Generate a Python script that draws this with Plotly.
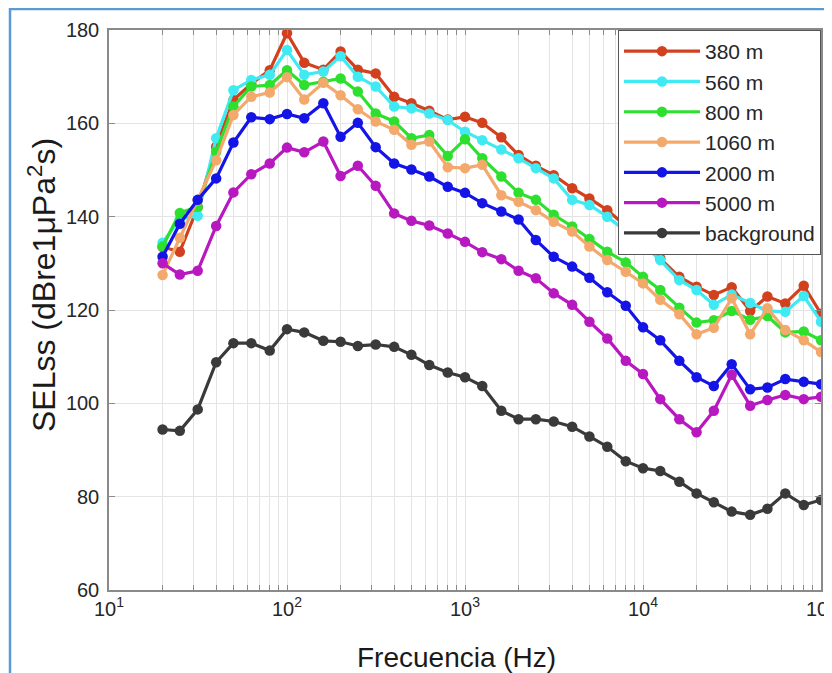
import plotly.graph_objects as go

freqs = [20, 25, 31.5, 40, 50, 63, 80, 100, 125, 160, 200, 250, 315, 400, 500, 630, 800,
         1000, 1250, 1600, 2000, 2500, 3150, 4000, 5000, 6300, 8000, 10000, 12500, 16000,
         20000, 25000, 31500, 40000, 50000, 63000, 80000, 100000]

sel_380 = [133.5, 132.5, 142.0, 155.0, 165.0, 168.5, 171.4, 179.3, 173.0, 171.5, 175.4, 171.5,
           170.7, 165.7, 164.3, 162.7, 160.8, 161.4, 160.1, 157.0, 153.2, 150.9, 148.9, 146.1,
           143.9, 141.4, 138.0, 134.5, 131.1, 127.1, 125.0, 123.2, 124.9, 119.8, 122.9, 121.4,
           125.2, 119.2]
sel_560 = [134.4, 139.5, 140.2, 156.8, 167.1, 169.3, 170.4, 175.7, 170.4, 171.1, 174.4, 170.0,
           167.9, 163.6, 163.2, 162.1, 160.7, 158.2, 156.4, 154.4, 152.5, 150.4, 148.2, 143.6,
           142.5, 140.0, 137.0, 134.0, 130.7, 126.4, 124.3, 121.1, 123.3, 121.5, 119.8, 119.6,
           123.0, 117.5]
sel_800 = [133.6, 140.8, 142.1, 153.9, 163.6, 167.9, 168.2, 171.4, 168.2, 168.9, 169.6, 166.8,
           162.1, 160.4, 156.8, 157.5, 153.0, 156.6, 152.5, 148.6, 145.1, 143.6, 140.4, 137.9,
           135.2, 132.5, 130.2, 127.1, 124.3, 120.5, 117.3, 117.8, 119.8, 117.9, 118.7, 115.2,
           115.4, 113.5]
sel_1060 = [127.5, 135.5, 143.5, 152.1, 161.8, 165.7, 166.6, 169.9, 165.1, 168.7, 166.0, 163.0,
            160.4, 158.6, 155.4, 156.1, 150.6, 150.4, 151.1, 144.6, 143.2, 141.4, 138.9, 136.8,
            133.6, 130.7, 128.2, 125.7, 122.2, 119.1, 114.8, 116.2, 122.5, 114.8, 120.4, 115.7,
            113.5, 111.0]
sel_2000 = [131.4, 138.5, 143.6, 148.2, 155.9, 161.3, 160.9, 162.0, 161.1, 164.3, 157.1, 160.1,
            154.9, 151.4, 150.1, 148.6, 146.4, 145.1, 142.9, 141.1, 139.4, 135.0, 131.4, 129.3,
            126.9, 123.8, 120.9, 116.3, 113.5, 109.1, 105.6, 103.7, 108.4, 103.0, 103.4, 105.2,
            104.6, 104.1]
sel_5000 = [130.0, 127.6, 128.4, 138.0, 145.2, 149.1, 151.4, 154.8, 153.8, 156.1, 148.7, 150.9,
            146.6, 140.7, 139.1, 138.1, 136.4, 134.6, 132.4, 130.9, 128.4, 126.8, 123.6, 121.1,
            117.5, 113.9, 109.1, 106.3, 100.9, 96.6, 93.8, 98.4, 106.1, 99.5, 100.7, 101.8,
            100.9, 101.4]
sel_background = [94.4, 94.1, 98.7, 108.8, 112.9, 112.9, 111.3, 115.9, 115.2, 113.4, 113.2, 112.3,
                  112.6, 112.1, 110.4, 108.2, 106.6, 105.6, 103.7, 98.4, 96.6, 96.6, 96.1, 95.0,
                  92.9, 90.7, 87.6, 86.1, 85.5, 83.2, 80.7, 78.8, 76.8, 76.1, 77.4, 80.7,
                  78.2, 79.3]

series_names = ["380 m", "560 m", "800 m", "1060 m", "2000 m", "5000 m", "background"]
series_values = [sel_380, sel_560, sel_800, sel_1060, sel_2000, sel_5000, sel_background]
series_colors = ["#D2401E", "#3FEAF2", "#2EE02E", "#F4A96C", "#1414E6", "#B818C0", "#3A3A3A"]

decades = [10, 100, 1000, 10000, 100000]
decade_labels = ["10<sup>1</sup>", "10<sup>2</sup>", "10<sup>3</sup>", "10<sup>4</sup>", "10<sup>5</sup>"]
y_tickvals = [60, 80, 100, 120, 140, 160, 180]
x_title = "Frecuencia (Hz)"
y_title = "SELss (dBre1\u03bcPa<sup>2</sup>s)"

# log-axis ticks/grid at every 1..9 multiple, labels only at decades
x_tickvals, x_ticktext = [], []
for d, lab in zip(decades, decade_labels):
    x_tickvals.append(d)
    x_ticktext.append(lab)
    if d < decades[-1]:
        for m in range(2, 10):
            x_tickvals.append(d * m)
            x_ticktext.append("")

FONT = "Liberation Sans, Arial, sans-serif"

fig = go.Figure()
for name, vals, col in zip(series_names, series_values, series_colors):
    fig.add_trace(go.Scatter(
        x=freqs, y=vals, name=name, mode="lines+markers",
        line=dict(color=col, width=3.2),
        marker=dict(color=col, size=10.5),
    ))

# page body has an 8px default margin, so the figure is 8px smaller and shifted
fig.update_layout(
    width=824, height=665,
    margin=dict(l=101, r=11, t=22, b=83, autoexpand=False),
    paper_bgcolor="white", plot_bgcolor="white",
    font=dict(family=FONT, color="#262626"),
    showlegend=True,
    legend=dict(
        x=1, y=1, xanchor="right", yanchor="top",
        bgcolor="white", bordercolor="#555555", borderwidth=1,
        font=dict(size=21, family=FONT, color="#262626"),
        itemwidth=76,
        tracegroupgap=0,
    ),
    xaxis=dict(
        type="log", range=[1, 5], automargin=False,
        tickmode="array", tickvals=x_tickvals, ticktext=x_ticktext,
        tickfont=dict(size=20, family=FONT, color="#262626"),
        ticklabeloverflow="allow",
        showline=True, linecolor="#8a8a8a", linewidth=1.5, mirror="ticks",
        ticks="inside", ticklen=5, tickcolor="#8a8a8a",
        showgrid=True, gridcolor="#e4e4e4", gridwidth=1,
        zeroline=False,
    ),
    yaxis=dict(
        range=[60, 180], tickvals=y_tickvals, automargin=False,
        tickfont=dict(size=20, family=FONT, color="#262626"),
        ticklabelstandoff=4,
        showline=True, linecolor="#8a8a8a", linewidth=1.5, mirror="ticks",
        ticks="inside", ticklen=6, tickcolor="#8a8a8a",
        showgrid=True, gridcolor="#e4e4e4", gridwidth=1,
        zeroline=False,
    ),
    annotations=[
        dict(text=x_title, xref="paper", yref="paper",
             x=(448 - 101) / 712, y=1 - (649 - 22) / 560,
             xanchor="center", yanchor="middle", showarrow=False,
             font=dict(size=28, family=FONT, color="#1a1a1a")),
        dict(text=y_title, xref="paper", yref="paper", textangle=-90,
             x=(34 - 101) / 712, y=1 - (277 - 22) / 560,
             xanchor="center", yanchor="middle", showarrow=False,
             font=dict(size=32, family=FONT, color="#1a1a1a")),
    ],
    shapes=[dict(
        type="rect", xref="paper", yref="paper",
        x0=(2 - 101) / 712, x1=(832 - 101) / 712,
        y0=1 - (672 - 22) / 560, y1=1 + (22 - 1) / 560,
        line=dict(color="#5B9BD5", width=2.5), fillcolor="rgba(0,0,0,0)", layer="above",
    )],
)

fig.write_html("out.html")
